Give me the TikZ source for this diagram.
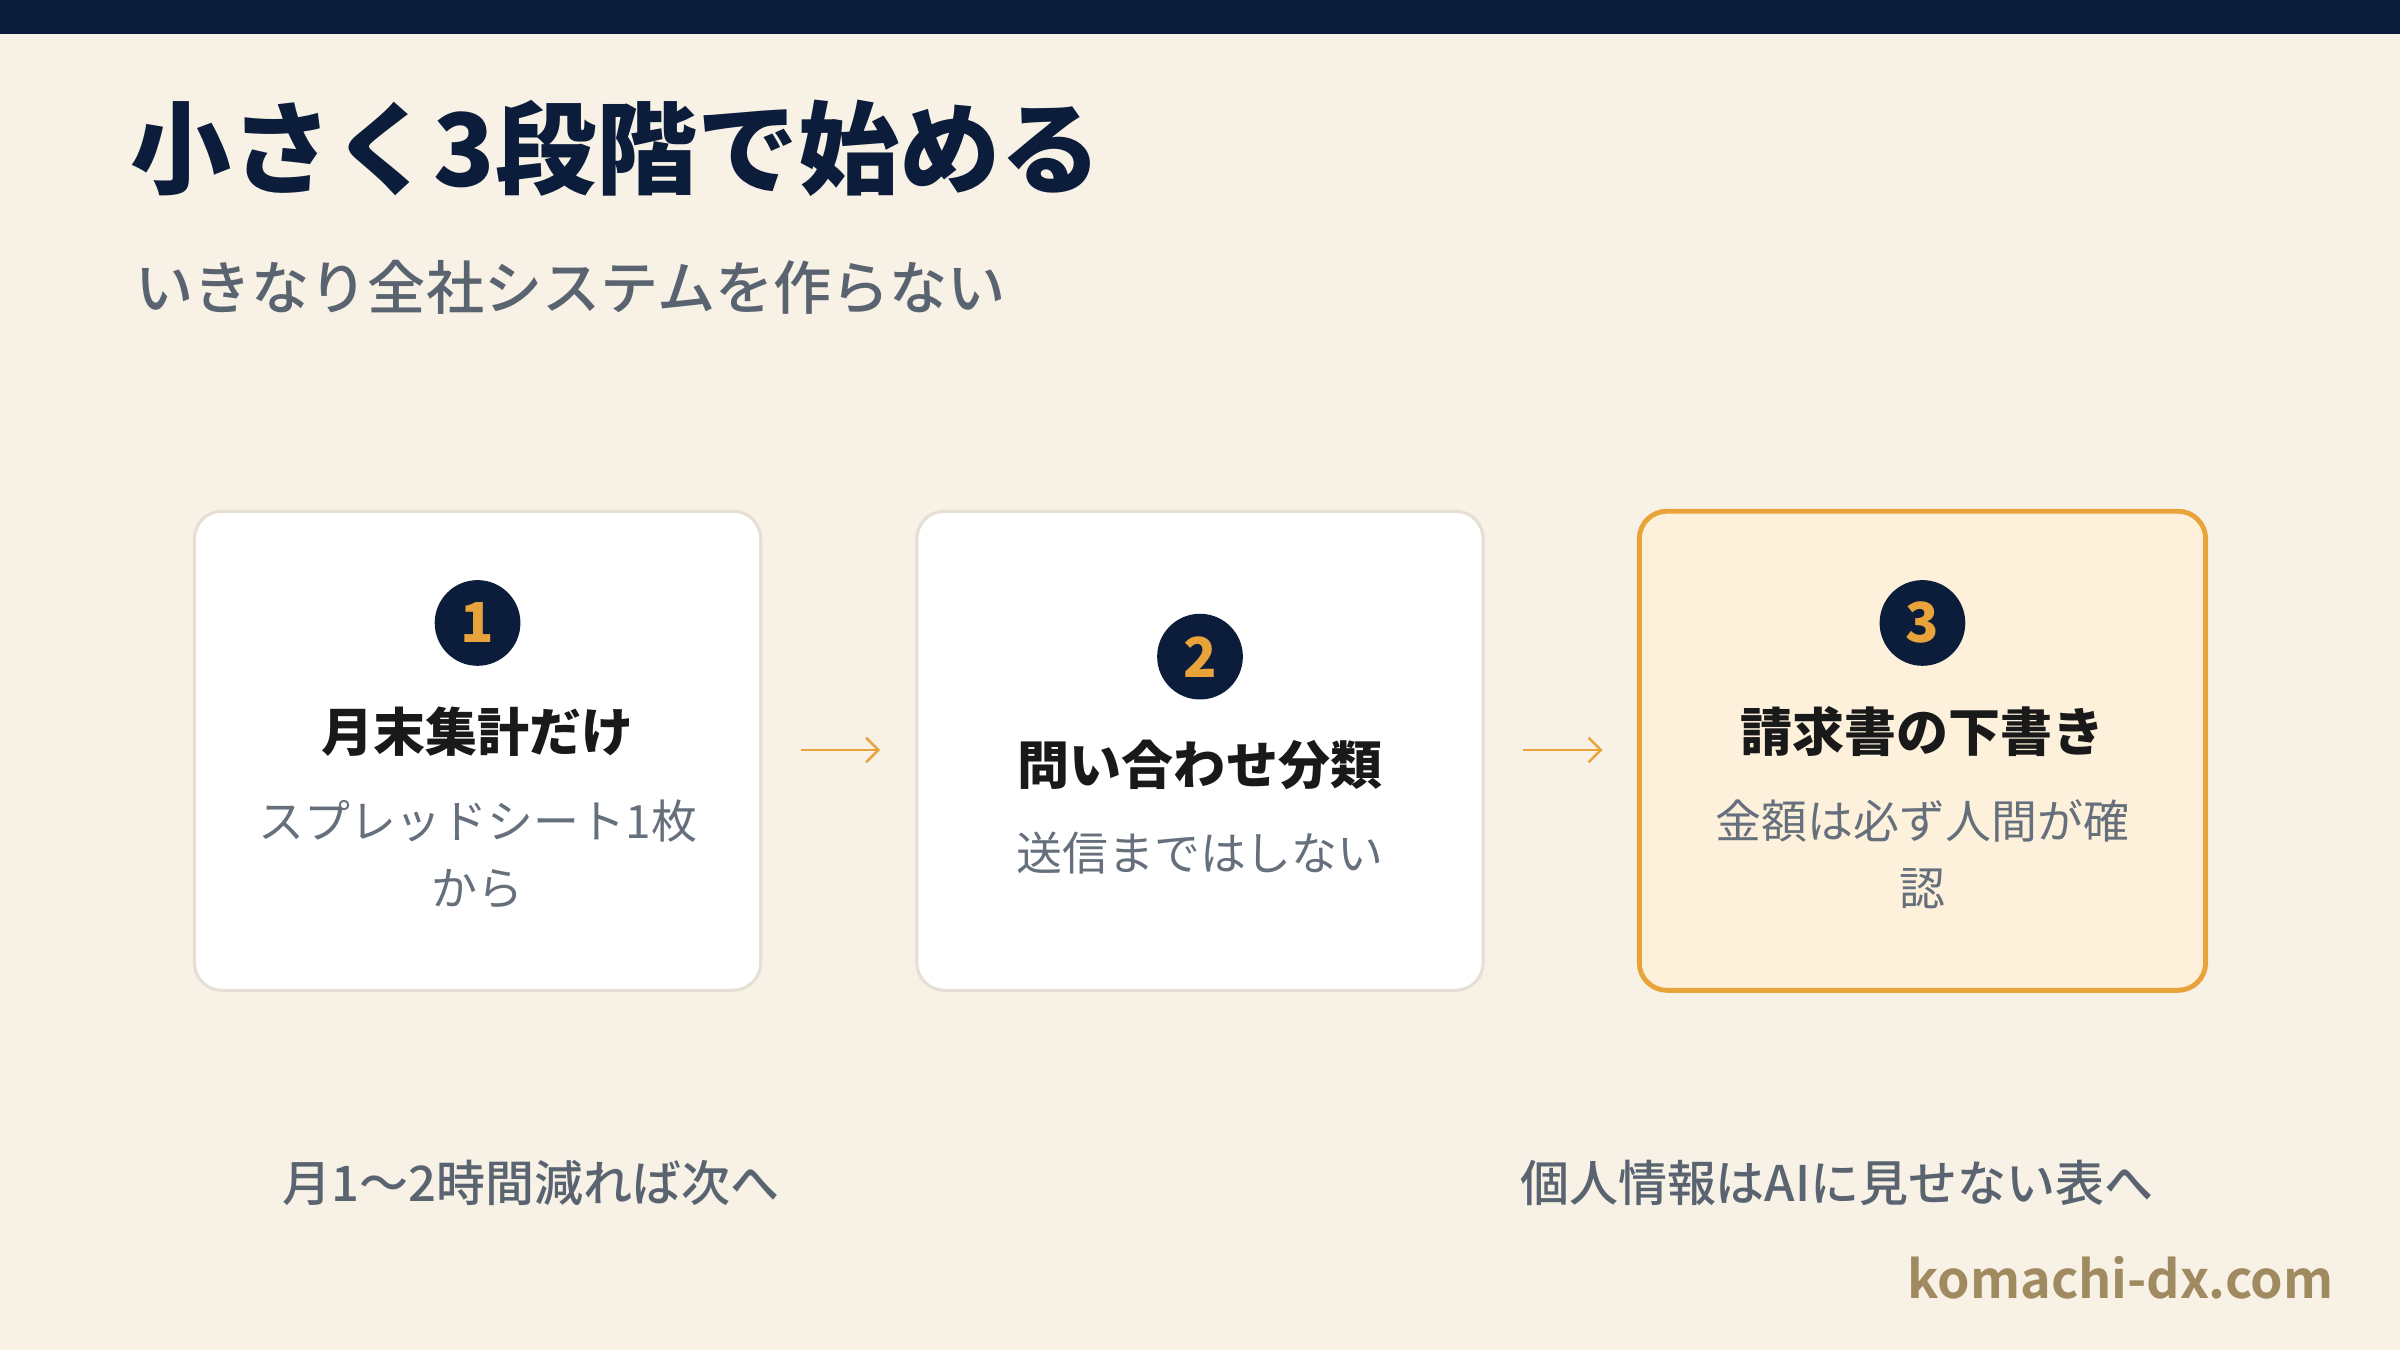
\documentclass[tikz,border=0pt]{standalone}
\usepackage{fontspec}
\setmainfont{Noto Sans CJK JP}
\newfontfamily\jpb{Noto Sans CJK JP Bold}
\newfontfamily\jpblack{Noto Sans CJK JP Black}
\newfontfamily\jpm{Noto Sans CJK JP Medium}
\usetikzlibrary{arrows.meta}
\definecolor{navy}{HTML}{0B1D3A}
\definecolor{bg}{HTML}{F7F1E6}
\definecolor{org}{HTML}{E8A33A}
\definecolor{gry}{HTML}{5A6470}
\definecolor{sub}{HTML}{66707C}
\definecolor{brd}{HTML}{E6DFD3}
\definecolor{pale}{HTML}{FDF1DC}
\definecolor{gold}{HTML}{A08A60}
\tikzset{
 card/.style={draw=brd,line width=1pt,fill=white,rounded corners=9pt,minimum width=185pt,minimum height=156.5pt,inner sep=0pt},
 badge/.style={circle,fill=navy,minimum size=28pt,inner sep=0pt,text=org,font=\jpblack\fontsize{18}{18}\selectfont},
 ctitle/.style={font=\jpblack\fontsize{17}{20}\selectfont,text=black!90},
 csub/.style={font=\fontsize{15}{22}\selectfont,text=sub,align=center},
 arr/.style={-{Straight Barb[length=4pt,width=8pt]},draw=org,line width=0.8pt},
 note/.style={font=\jpm\fontsize{16}{18}\selectfont,text=gry}
}
\begin{document}
\begin{tikzpicture}[x=0.5pt,y=-0.5pt]
\useasboundingbox (0,0) rectangle (1568,882);
\fill[bg] (0,0) rectangle (1568,882);
\fill[navy] (0,0) rectangle (1568,22);
\node[anchor=base west,inner sep=0pt,text=navy,font=\jpblack\fontsize{33}{36}\selectfont] (t) at (85,122) {小さく3段階で始める};
\node[anchor=base west,inner sep=0pt,text=gry,font=\jpm\fontsize{19}{22}\selectfont] (st) at (88,202) {いきなり全社システムを作らない};
\node[card] (c1) at (312,490.5) {};
\node[card] (c2) at (784,490.5) {};
\node[card,draw=org,line width=1.6pt,fill=pale] (c3) at (1256,490.5) {};
\node[badge] (b1) at (312,407) {1};
\node[badge] (b2) at (784,429) {2};
\node[badge] (b3) at (1256,407) {3};
\node[ctitle] (h1) at (312,478) {月末集計だけ};
\node[ctitle] (h2) at (784,500) {問い合わせ分類};
\node[ctitle] (h3) at (1256,478) {請求書の下書き};
\node[csub] (s1) at (312,558) {スプレッドシート1枚\\から};
\node[csub] (s2) at (784,557) {送信まではしない};
\node[csub] (s3) at (1256,558) {金額は必ず人間が確\\認};
\coordinate (a1s) at (523,490); \coordinate (a1e) at (575,490);
\coordinate (a2s) at (995,490); \coordinate (a2e) at (1047,490);
\draw[arr] (a1s) -- (a1e);
\draw[arr] (a2s) -- (a2e);
\node[note] (n1) at (347,773) {月1〜2時間減れば次へ};
\node[note] (n2) at (1200,773) {個人情報はAIに見せない表へ};
\node[anchor=east,inner sep=0pt,text=gold,font=\jpb\fontsize{17}{20}\selectfont] (url) at (1525,835) {komachi-dx.com};
\end{tikzpicture}
\end{document}
